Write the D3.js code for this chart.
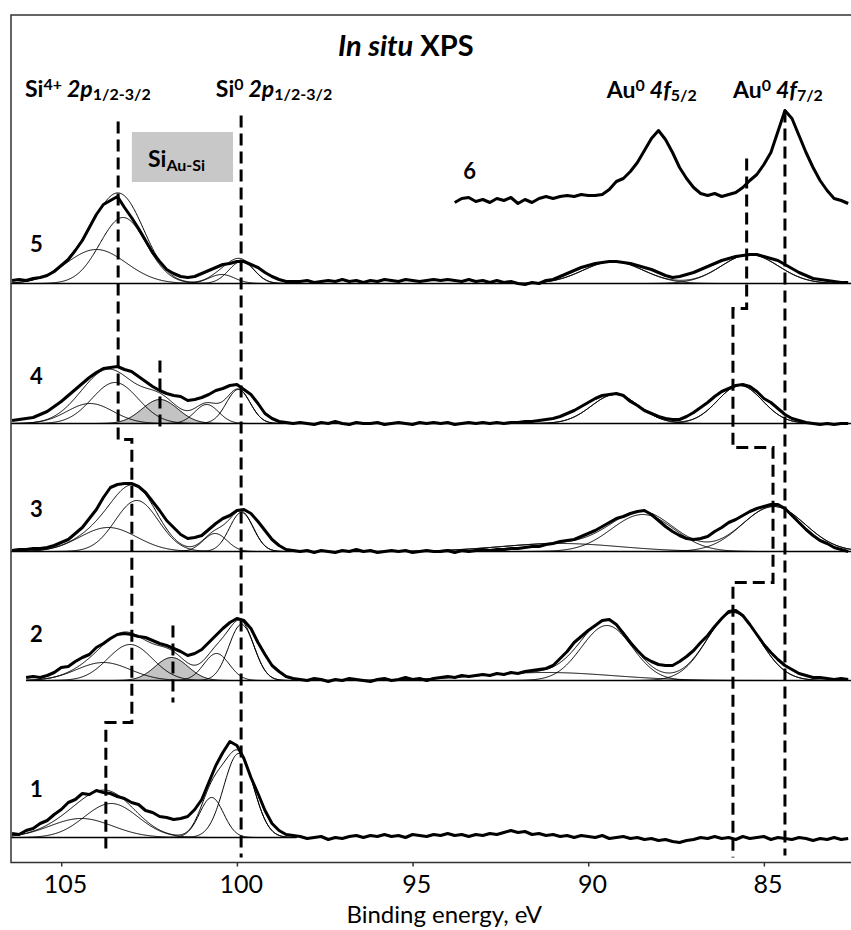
<!DOCTYPE html>
<meta charset="utf-8">
<head>
<title>In situ XPS</title>
<script src="https://d3js.org/d3.v7.min.js"></script>
<style>
  body { margin: 0; background: #fff; }
  svg text { font-family: Lato, "Open Sans", "Liberation Sans", sans-serif; fill: #000; }
</style>
</head>

<div id="xps"></div>

<script>
  // energy grid of the recorded spectra (eV)
  var stepEV = 0.2;
  var siStarts = [106.4, 106.0, 106.4, 106.4, 106.4];
  var midStart = 98.2, auStart = 94.2, au6Start = 93.8;

  // vertical stacking of spectra 1..6 (a.u.)
  var offsets = [2.5, 18.2, 31.1, 43.9, 57.9, 66.2];
  var specNames = ["1", "2", "3", "4", "5", "6"];
  var baseFrom = [106.43, 106.0, 106.43, 106.43, 106.43];
  var baseTo = [98.3, 82.52, 82.52, 82.52, 82.52];

  // measured intensities, Si 2p region (from siStarts, step 0.2 eV)
  var si1 = [0.4,0.3,0.7,0.9,1.4,1.7,2.3,2.8,3.5,3.8, 4.4,4.3,4.7,4.5,4.4,4.1,3.9,3.5,3.3,2.7,
             2.5,2.1,2.0,1.8,1.9,2.1,2.8,3.8,5.5,7.2, 8.5,9.6,9.2,7.9,6.0,4.4,2.7,1.4,0.7,0.3, 0.2];
  var si2 = [0.3,0.4,0.3,0.5,0.8,1.3,1.4,1.9,2.3,2.6, 3.3,3.7,4.2,4.6,4.7,4.6,4.4,4.3,4.0,3.7,
             3.5,3.2,2.9,2.5,2.7,3.1,3.8,4.5,5.2,5.8, 6.2,6.0,5.2,3.8,2.6,1.5,0.9,0.4,0.2];
  var si3 = [0.1,0.2,0.2,0.3,0.3,0.4,0.6,0.9,1.2,1.8, 2.4,3.3,4.2,5.4,6.4,6.7,6.8,6.8,6.5,5.9,
             5.0,4.1,3.1,2.4,1.7,1.3,1.4,1.6,2.2,2.8, 3.3,3.6,4.1,4.2,3.8,3.0,2.1,1.2,0.6,0.2, 0.1];
  var si4 = [0.3,0.4,0.5,0.6,0.9,1.2,1.7,2.2,2.8,3.4, 4.0,4.6,5.1,5.5,5.6,5.7,5.4,5.2,4.7,4.2,
             3.7,3.3,3.0,2.8,2.7,2.3,2.4,2.6,2.9,3.3, 3.5,3.8,3.9,3.4,2.9,2.0,1.0,0.5,0.2,0.1, 0.0];
  var si5 = [0.3,0.4,0.3,0.5,0.6,0.8,1.2,1.8,2.4,3.3, 4.3,5.6,6.9,7.9,8.3,8.7,7.6,6.6,5.5,4.3,
             3.1,2.2,1.4,1.0,0.7,0.6,0.7,1.0,1.3,1.6, 1.9,2.0,2.2,2.2,1.9,1.6,1.1,0.7,0.4,0.2, 0.2];

  // measured intensities between the regions (98.2 - 94.4 eV)
  var mid1 = [0.1,-0.1,0.0,0.1,-0.2,0.0,-0.1,0.1,0.2,0.0, 0.2,0.1,0.3,0.1,0.2,0.0,0.3,0.2,0.1,0.3];
  var mid2 = [0.1,0.0,0.2,0.1,-0.1,0.1,0.0,0.2,0.1,0.0, -0.1,0.1,0.2,0.0,0.1,0.3,0.1,0.2,0.0,0.2];
  var mid3 = [0.0,0.1,-0.1,0.1,0.0,-0.1,0.1,0.0,0.2,0.0, 0.1,-0.1,0.0,0.1,0.0,0.1,-0.1,0.0,0.1,0.0];
  var mid4 = [0.1,0.0,-0.1,0.1,0.0,0.2,0.0,-0.1,0.1,0.0, 0.0,0.1,-0.1,0.0,0.1,0.0,-0.1,0.1,0.0,0.1];
  var mid5 = [0.2,0.3,0.1,0.2,0.3,0.2,0.4,0.2,0.3,0.1, 0.3,0.2,0.4,0.3,0.2,0.4,0.3,0.2,0.3,0.4];

  // measured intensities, Au 4f region (94.2 - 82.6 eV)
  var au1 = [0.2,0.4,0.2,0.3,0.1,0.3,0.2,0.4,0.3,0.5, 0.7,0.5,0.6,0.3,0.4,0.2,0.3,0.1,0.2,0.0,
             0.2,0.1,0.0,0.2,-0.1,0.0,0.1,-0.1,0.0,-0.2, -0.1,-0.3,-0.2,-0.4,-0.5,-0.3,-0.2,0.0,-0.1,0.1,
             -0.1,0.0,-0.2,0.1,-0.1,0.0,0.1,-0.2,0.0,-0.1, -0.2,0.0,-0.1,-0.3,-0.1,-0.2,0.0,-0.2,-0.1];
  var au2 = [0.3,0.4,0.3,0.5,0.4,0.5,0.6,0.5,0.7,0.6, 0.8,0.7,0.9,1.0,1.1,1.2,1.5,2.2,2.9,3.8,
             4.4,5.0,5.5,6.0,6.1,5.6,4.7,3.8,3.0,2.3, 1.9,1.6,1.5,1.5,1.9,2.4,3.0,3.8,4.5,5.4,
             6.2,6.9,7.0,6.5,5.6,4.6,3.6,2.8,2.1,1.5, 1.1,0.7,0.5,0.3,0.3,0.2,0.1,0.2,0.1];
  var au3 = [0.0,0.1,-0.1,0.1,0.0,0.1,0.2,0.1,0.2,0.2, 0.3,0.3,0.4,0.5,0.5,0.7,0.8,1.0,1.1,1.2,
             1.5,1.8,2.1,2.5,2.9,3.3,3.5,3.8,4.0,4.1, 3.7,3.1,2.5,2.0,1.6,1.3,1.2,1.3,1.5,2.0,
             2.4,2.9,3.2,3.6,4.0,4.3,4.5,4.7,4.7,4.3, 3.6,2.9,2.2,1.6,1.1,0.8,0.4,0.2,0.0];
  var au4 = [0.0,0.1,-0.1,0.0,0.1,0.0,0.1,0.0,0.1,0.0, 0.1,0.1,0.2,0.2,0.3,0.4,0.5,0.7,1.0,1.3,
             1.7,2.1,2.5,2.8,2.9,3.0,2.8,2.2,1.8,1.3, 1.0,0.7,0.5,0.4,0.4,0.7,1.1,1.6,2.1,2.7,
             3.2,3.5,3.8,3.9,3.7,3.2,2.5,2.1,1.5,0.9, 0.5,0.3,0.1,0.0,-0.1,0.0,-0.1,0.0,0.0];
  var au5 = [0.3,0.4,0.3,0.2,0.4,0.2,0.3,0.1,0.3,0.1, 0.2,0.0,-0.1,0.1,0.0,0.3,0.4,0.7,1.0,1.3,
             1.6,1.8,2.0,2.1,2.2,2.2,2.1,2.0,1.8,1.6, 1.4,1.1,0.8,0.6,0.7,0.9,1.1,1.4,1.7,2.0,
             2.3,2.5,2.7,2.8,2.9,2.9,2.7,2.5,2.3,1.9, 1.5,1.1,0.8,0.5,0.4,0.3,0.2,0.1,0.1];
  // spectrum 6: Au 4f only (93.8 - 82.6 eV)
  var au6 = [-0.2,0.2,0.3,-0.1,0.1,-0.2,0.2,0.0,0.3,-0.3, 0.1,-0.2,0.2,0.4,0.2,0.4,0.5,0.4,0.6,0.5,
             0.5,0.6,1.1,1.9,2.2,2.9,3.8,5.0,6.2,7.0, 6.1,4.8,3.3,2.2,1.3,0.7,0.5,0.7,0.4,0.6,
             0.8,1.3,2.0,2.6,3.6,4.8,6.9,9.0,8.2,6.5, 4.8,3.3,2.0,1.0,0.2,0.0,-0.3];

  // fitted components: [centre eV, height a.u., FWHM eV]
  var peaks1 = [[104.43,1.9,2.1],[103.58,3.4,1.8],[100.72,4.0,0.8],[99.95,8.4,1.0]];
  var peaks2 = [[103.80,1.8,1.8],[103.04,3.6,1.5],[101.86,2.3,1.1],[100.58,2.7,0.85],[99.87,5.6,0.85],
                [91.2,0.8,4.5],[89.47,5.5,1.7],[85.87,6.8,1.75]];
  var peaks3 = [[103.66,2.4,1.9],[102.85,5.1,1.45],[100.62,1.8,0.8],[99.87,3.9,0.8],
                [90.8,0.8,4.0],[88.45,3.7,2.1],[84.72,4.5,2.1]];
  var peaks4 = [[104.18,2.0,1.55],[103.47,4.1,1.55],[102.19,2.4,1.2],[100.86,1.9,0.8],[99.96,3.4,0.8],
                [89.23,2.9,1.6],[85.68,3.8,1.5]];
  var peaks5 = [[104.0,3.4,2.0],[103.24,6.6,1.55],[100.43,0.9,0.85],[99.87,2.2,0.85],
                [89.29,2.2,2.0],[85.4,2.9,1.9]];
  // which component is the Au-Si silicide one (-1 = none)
  var auSiIndex = [-1, 2, -1, 2, -1];

  // dashed guide lines: [eV, a.u.]
  var guideSi4 = [[103.38,74.1],[103.38,42.3],[102.99,42.3],[102.99,14.0],[103.73,14.0],[103.73,1.4]];
  var guideSi0 = [[99.88,74.7],[99.88,0.5]];
  var guideAuSi4 = [[102.19,50.2],[102.19,43.0]];
  var guideAuSi2 = [[101.82,23.7],[101.82,16.0]];
  var guideAu72 = [[84.40,75.2],[84.40,0.7]];
  var guideAuStep = [[85.49,70.4],[85.49,55.4],[85.88,55.4],[85.88,41.5],[84.74,41.5],[84.74,28.0],
                     [85.88,28.0],[85.88,0.5]];

  var tickValues = [105, 100, 95, 90, 85];

  // size
  var W = 851, H = 930;

  var svg = d3.select("#xps")
    .append("svg")
      .attr("width", W)
      .attr("height", H);

  var x = d3.scaleLinear().domain([106.43, 82.52]).range([11, 851]);
  var y = d3.scaleLinear().domain([0, 84.75]).range([862.5, 15]);

  svg.append("clipPath").attr("id", "plotclip")
    .append("rect")
      .attr("x", x.range()[0]).attr("y", y.range()[1])
      .attr("width", x.range()[1] - x.range()[0] + 5)
      .attr("height", y.range()[0] - y.range()[1]);

  var plot = svg.append("g").attr("clip-path", "url(#plotclip)");

  function seg(start, vals) {
    return vals.map(function(v, i) { return [start - i * stepEV, v]; });
  }
  function gauss(p, e) {
    var s = p[2] / 2.3548;
    return p[1] * Math.exp(-(e - p[0]) * (e - p[0]) / (2 * s * s));
  }

  var siSets = [si1, si2, si3, si4, si5],
      midSets = [mid1, mid2, mid3, mid4, mid5],
      auSets = [au1, au2, au3, au4, au5],
      peakSets = [peaks1, peaks2, peaks3, peaks4, peaks5];

  var spectra = siSets.map(function(si, i) {
    return {
      off: offsets[i],
      data: seg(siStarts[i], si).concat(seg(midStart, midSets[i]), seg(auStart, auSets[i])),
      peaks: peakSets[i],
      from: siStarts[i],
      shaded: auSiIndex[i],
      base: [baseFrom[i], baseTo[i]]
    };
  });
  spectra.push({off: offsets[5], data: seg(au6Start, au6), peaks: [], shaded: -1});

  var fineE = function(from) { return d3.range(from, 82.5, -0.02); };

  spectra.forEach(function(sp, i) {
    var off = sp.off;
    var thin = d3.line()
      .defined(function(d) { return d[1] > 0.004; })
      .x(function(d) { return x(d[0]); })
      .y(function(d) { return y(off + d[1]); });

    if (sp.peaks.length) {
      var grid = fineE(sp.from);
      var comps = sp.peaks.map(function(p) {
        return grid.map(function(e) { return [e, gauss(p, e)]; });
      });

      // Au-Si component, grey filled
      if (sp.shaded >= 0) {
        plot.append("path")
          .datum(comps[sp.shaded].filter(function(d) { return d[1] > 0.004; }))
          .attr("fill", "#c3c3c3")
          .attr("d", d3.area()
            .x(function(d) { return x(d[0]); })
            .y0(y(off))
            .y1(function(d) { return y(off + d[1]); }));
      }

      comps.forEach(function(c) {
        plot.append("path").datum(c)
          .attr("fill", "none").attr("stroke", "#000").attr("stroke-width", 1)
          .attr("d", thin);
      });

      // sum of components
      var env = grid.map(function(e) {
        return [e, d3.sum(sp.peaks, function(p) { return gauss(p, e); })];
      });
      plot.append("path").datum(env)
        .attr("fill", "none").attr("stroke", "#000").attr("stroke-width", 1)
        .attr("d", thin);

      // baseline
      plot.append("line")
        .attr("x1", x(sp.base[0])).attr("x2", x(sp.base[1]))
        .attr("y1", y(off)).attr("y2", y(off))
        .attr("stroke", "#000").attr("stroke-width", 1.3);
    }

    // measured spectrum
    plot.append("path").datum(sp.data)
      .attr("fill", "none")
      .attr("stroke", "#000")
      .attr("stroke-width", 3)
      .attr("stroke-linejoin", "round")
      .attr("d", d3.line()
        .x(function(d) { return x(d[0]); })
        .y(function(d) { return y(off + d[1]); }));
  });

  // dashed guides
  var guideLine = d3.line()
    .x(function(d) { return x(d[0]); })
    .y(function(d) { return y(d[1]); });
  [guideSi4, guideSi0, guideAuSi4, guideAuSi2, guideAu72, guideAuStep].forEach(function(g) {
    plot.append("path").datum(g)
      .attr("fill", "none")
      .attr("stroke", "#000")
      .attr("stroke-width", 3)
      .attr("stroke-dasharray", "12,6")
      .attr("d", guideLine);
  });

  // frame
  svg.append("rect")
    .attr("x", x.range()[0]).attr("y", y.range()[1])
    .attr("width", x.range()[1] - x.range()[0] + 10)
    .attr("height", y.range()[0] - y.range()[1])
    .attr("fill", "none")
    .attr("stroke", "#333")
    .attr("stroke-width", 1.5);

  // x axis
  var xAxis = svg.append("g")
    .attr("transform", "translate(0," + y.range()[0] + ")")
    .call(d3.axisBottom(x).tickValues(tickValues).tickSize(4).tickSizeOuter(0).tickPadding(9));
  xAxis.select(".domain").remove();
  xAxis.selectAll("line").attr("stroke", "#333").attr("stroke-width", 1.5);
  xAxis.selectAll("text")
    .style("font-size", "25px")
    .style("font-family", "Lato, 'Open Sans', sans-serif")
    .attr("dx", "0.15em")
    .attr("fill", "#111");

  svg.append("text")
    .attr("x", x(94.1))
    .attr("y", 923)
    .attr("text-anchor", "middle")
    .style("font-size", "24px")
    .text("Binding energy, eV");

  // labels with super/subscripts
  function richText(d, size, anchor) {
    var t = svg.append("text")
      .attr("x", x(d.e)).attr("y", y(d.u))
      .attr("text-anchor", anchor || "start")
      .style("font-weight", "bold")
      .style("font-size", size + "px");
    var shift = 0;
    d.parts.forEach(function(p) {
      var target = p[1] === "sup" ? -0.3 * size : (p[1] === "sub" ? 0.16 * size : 0);
      var ts = t.append("tspan").text(p[0]).attr("dy", target - shift);
      shift = target;
      if (p[1] === "sup" || p[1] === "sub") ts.style("font-size", Math.round(size * 0.68) + "px");
      if (p[1] === "i") ts.style("font-style", "italic");
      if (p[2]) ts.attr("dx", p[2]);
    });
    return t;
  }

  richText({e: 95.19, u: 80.7, parts: [["In situ", "i"], ["XPS", "", 7]]}, 29, "middle");

  var peakLabels = [
    {e: 106.03, u: 76.6, parts: [["Si"], ["4+", "sup"], ["2p", "i", 5], ["1/2-3/2", "sub"]]},
    {e: 100.60, u: 76.6, parts: [["Si"], ["0", "sup"], ["2p", "i", 5], ["1/2-3/2", "sub"]]},
    {e: 89.47, u: 76.5, parts: [["Au"], ["0", "sup"], ["4f", "i", 5], ["5/2", "sub"]]},
    {e: 85.88, u: 76.5, parts: [["Au"], ["0", "sup"], ["4f", "i", 5], ["7/2", "sub"]]}
  ];
  peakLabels.forEach(function(d) { richText(d, 23); });

  // Au-Si box
  svg.append("rect")
    .attr("x", x(102.99)).attr("y", y(73.05))
    .attr("width", x(100.11) - x(102.99))
    .attr("height", y(68.05) - y(73.05))
    .attr("fill", "#c8c8c8");
  richText({e: 102.53, u: 69.55, parts: [["Si"], ["Au-Si", "sub"]]}, 23);

  // spectrum numbers
  var numPos = [[105.89, 6.55], [105.89, 22.05], [105.89, 34.55], [105.89, 47.85], [105.89, 61.08], [93.56, 68.35]];
  numPos.forEach(function(p, i) {
    svg.append("text")
      .attr("x", x(p[0])).attr("y", y(p[1]))
      .style("font-weight", "bold")
      .style("font-size", "22px")
      .text(specNames[i]);
  });
</script>
